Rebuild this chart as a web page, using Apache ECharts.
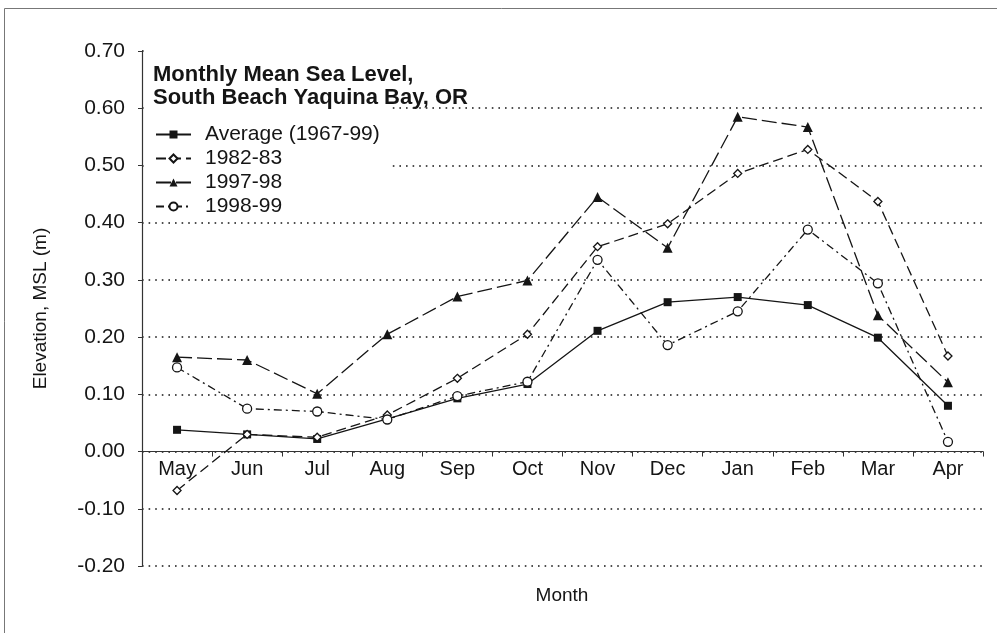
<!DOCTYPE html>
<html>
<head>
<meta charset="utf-8">
<script src="https://cdn.jsdelivr.net/npm/echarts@6/dist/echarts.min.js"></script>
<style>
  html, body { margin: 0; padding: 0; background: #fff; }
  #chart { width: 997px; height: 633px; }
</style>
</head>
<body>
<div id="chart"></div>
<script>
// months of the water year, May through April
const months = ['May', 'Jun', 'Jul', 'Aug', 'Sep', 'Oct', 'Nov', 'Dec', 'Jan', 'Feb', 'Mar', 'Apr'];

// monthly mean sea level (m above MSL)
const average6799 = [0.038, 0.030, 0.022, 0.057, 0.093, 0.118, 0.211, 0.261, 0.270, 0.256, 0.199, 0.080];
const y1982 = [-0.068, 0.030, 0.025, 0.064, 0.128, 0.205, 0.358, 0.398, 0.486, 0.528, 0.437, 0.167];
const y1997 = [0.165, 0.160, 0.101, 0.205, 0.271, 0.299, 0.445, 0.356, 0.585, 0.567, 0.238, 0.121];
const y1998 = [0.147, 0.075, 0.070, 0.056, 0.097, 0.122, 0.335, 0.186, 0.245, 0.388, 0.294, 0.017];

const yTicks = { min: -0.2, max: 0.7, step: 0.1 };

const ink = '#151515';
const font = 'Liberation Sans, Arial, sans-serif';

// plot box in pixels
const gridTop = 51, gridBottom = 67, pageH = 633;
const plotH = pageH - gridTop - gridBottom;
// the month axis sits on the zero line, not on the bottom of the box
const zeroOffset = -plotH * (0 - yTicks.min) / (yTicks.max - yTicks.min);

function lineSeries(name, data, symbol, size, filled, dash) {
  return {
    name: name,
    type: 'line',
    data: data,
    symbol: symbol,
    symbolSize: size,
    showSymbol: true,
    z: 3,
    lineStyle: { color: ink, width: 1.3, type: dash },
    itemStyle: { color: filled ? ink : '#fff', borderColor: ink, borderWidth: filled ? 0 : 1.3 }
  };
}

const chart = echarts.init(document.getElementById('chart'), null, { renderer: 'canvas' });

chart.setOption({
  animation: false,
  backgroundColor: '#fff',
  textStyle: { fontFamily: font },
  grid: { left: 142, right: 14, top: gridTop, bottom: gridBottom },
  title: {
    text: 'Monthly Mean Sea Level,\nSouth Beach Yaquina Bay, OR',
    left: 153,
    top: 63,
    padding: 0,
    textStyle: { fontFamily: font, fontSize: 22, fontWeight: 'bold', color: ink, lineHeight: 23 }
  },
  legend: {
    orient: 'vertical',
    left: 155,
    top: 124,
    padding: 0,
    itemGap: 3,
    itemWidth: 35,
    itemHeight: 10,
    textStyle: { fontFamily: font, fontSize: 21, color: ink, lineHeight: 20, padding: [0, 0, 0, 9] },
    data: ['Average (1967-99)', '1982-83', '1997-98', '1998-99']
  },
  xAxis: {
    type: 'category',
    data: months,
    boundaryGap: true,
    offset: zeroOffset,
    axisLine: { onZero: false, lineStyle: { color: '#333', width: 1.2 } },
    axisTick: { show: true, length: 5, lineStyle: { color: '#333' } },
    axisLabel: { color: ink, fontSize: 20, margin: 8, fontFamily: font },
    splitLine: { show: false }
  },
  yAxis: {
    type: 'value',
    min: yTicks.min,
    max: yTicks.max,
    interval: yTicks.step,
    name: 'Elevation, MSL (m)',
    nameLocation: 'middle',
    nameGap: 92,
    nameTextStyle: { color: ink, fontSize: 19, fontFamily: font },
    axisLine: { show: true, lineStyle: { color: '#333', width: 1.2 } },
    axisTick: { show: true, length: 4, lineStyle: { color: '#333' } },
    axisLabel: {
      color: ink, fontSize: 21, margin: 17, fontFamily: font,
      formatter: v => v.toFixed(2)
    },
    splitLine: {
      show: true,
      lineStyle: { color: ink, width: 1.6, type: [1.6, 5] }
    }
  },
  graphic: [
    {
      type: 'rect',
      z: 1,
      shape: { x: 4.5, y: 8.5, width: 1000, height: 640 },
      style: { fill: 'none', stroke: '#777', lineWidth: 1 }
    },
    {
      // legend panel hides the grid behind it
      type: 'rect',
      z: 1,
      shape: { x: 146, y: 54, width: 242, height: 160 },
      style: { fill: '#fff', stroke: 'none' }
    },
    {
      // no grid line at the top of the box
      type: 'rect',
      z: 1,
      shape: { x: 144, y: 48, width: 850, height: 6 },
      style: { fill: '#fff', stroke: 'none' }
    },
    {
      type: 'text',
      z: 5,
      style: {
        text: 'Month', x: 562, y: 596, align: 'center', verticalAlign: 'middle',
        fill: ink, font: '19px ' + font
      }
    }
  ],
  series: [
    lineSeries('Average (1967-99)', average6799, 'rect', 8, true, 'solid'),
    lineSeries('1982-83', y1982, 'diamond', 8, false, [10, 5]),
    lineSeries('1997-98', y1997, 'triangle', 10, true, [15, 5]),
    lineSeries('1998-99', y1998, 'circle', 9, false, [8, 4, 2, 4])
  ]
});
</script>
</body>
</html>
